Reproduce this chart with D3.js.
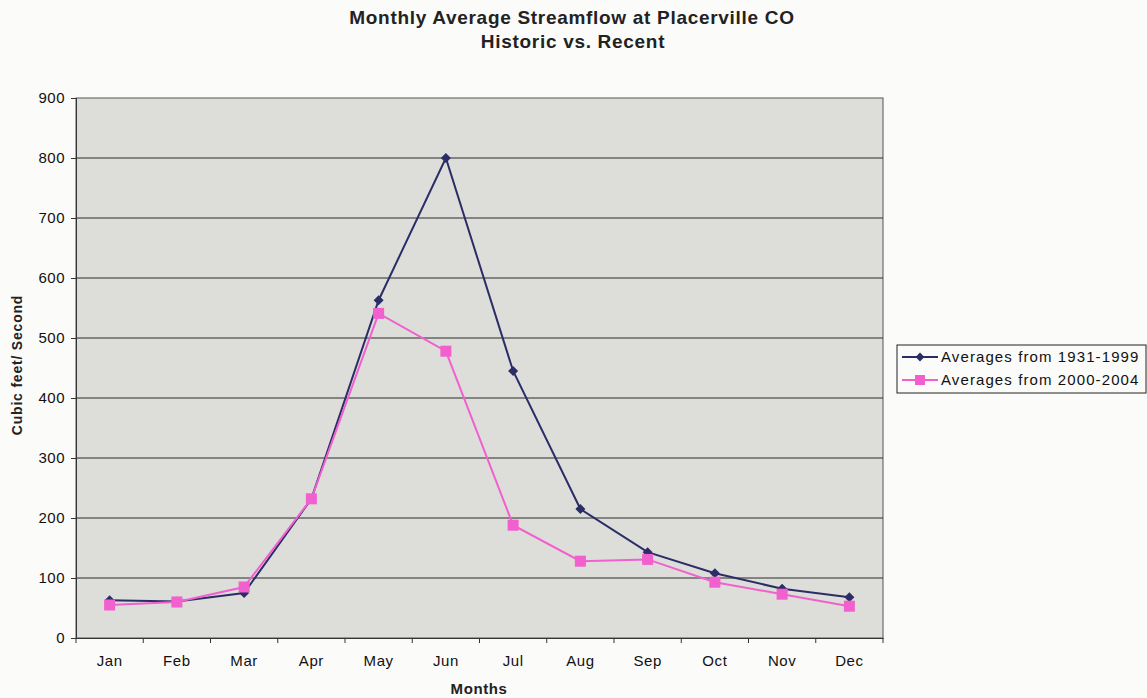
<!DOCTYPE html>
<html>
<head>
<meta charset="utf-8">
<script src="https://cdn.jsdelivr.net/npm/d3@7"></script>
<style>
  body { margin: 0; background: #fbfbfa; }
  svg { font-family: Arial, "Liberation Sans", sans-serif; }
</style>
</head>
<body>
<svg width="1147" height="698"></svg>
<script>
const months = ['Jan', 'Feb', 'Mar', 'Apr', 'May', 'Jun', 'Jul', 'Aug', 'Sep', 'Oct', 'Nov', 'Dec'];
const historic = [63, 61, 75, 232, 563, 800, 445, 215, 143, 108, 82, 68];
const recent = [55, 60, 85, 232, 541, 478, 188, 128, 131, 93, 73, 53];
const seriesNames = ['Averages from 1931-1999', 'Averages from 2000-2004'];
const yTicks = [0, 100, 200, 300, 400, 500, 600, 700, 800, 900];

const svg = d3.select('svg');
const plotL = 76, plotR = 883, plotT = 98, plotB = 638;

const x = d3.scaleBand().domain(months).range([plotL, plotR]);
const y = d3.scaleLinear().domain([0, 900]).range([plotB, plotT]);

// plot area
svg.append('rect')
  .attr('x', plotL).attr('y', plotT)
  .attr('width', plotR - plotL).attr('height', plotB - plotT)
  .style('fill', '#dddddA')
  .style('stroke', '#555')
  .style('stroke-width', 1);

// gridlines
svg.append('g')
  .selectAll('line')
  .data(yTicks.slice(1, -1))
  .join('line')
  .attr('x1', plotL).attr('x2', plotR)
  .attr('y1', d => y(d)).attr('y2', d => y(d))
  .style('stroke', '#2a2a2a')
  .style('stroke-width', 1);

// y axis
const yAxis = svg.append('g')
  .attr('transform', `translate(${plotL},0)`)
  .call(d3.axisLeft(y).tickValues(yTicks).tickSize(5).tickPadding(6));
yAxis.select('.domain').style('stroke', '#333');
yAxis.selectAll('line').style('stroke', '#333');
yAxis.selectAll('text').style('font-size', '15px').style('letter-spacing', '0.5px').style('fill', '#111');

// x axis
const xAxis = svg.append('g')
  .attr('transform', `translate(0,${plotB})`)
  .call(d3.axisBottom(x).tickSize(0).tickPadding(17));
xAxis.select('.domain').style('stroke', '#333');
xAxis.selectAll('text').style('font-size', '15px').style('letter-spacing', '0.6px').style('fill', '#111');

// x ticks at category boundaries
svg.append('g')
  .selectAll('line')
  .data(months.concat(['end']))
  .join('line')
  .attr('x1', (d, i) => i < months.length ? x(d) : plotR)
  .attr('x2', (d, i) => i < months.length ? x(d) : plotR)
  .attr('y1', plotB).attr('y2', plotB + 5)
  .style('stroke', '#333');

const cx = d => x(d) + x.bandwidth() / 2;
const line = d3.line().x((d, i) => cx(months[i])).y(d => y(d));

const colors = ['#2b2d66', '#f25fce'];

// series lines
[historic, recent].forEach((vals, k) => {
  svg.append('path')
    .datum(vals)
    .attr('d', line)
    .style('fill', 'none')
    .style('stroke', colors[k])
    .style('stroke-width', 2);
});

// markers
svg.append('g')
  .selectAll('path')
  .data(historic)
  .join('path')
  .attr('d', d3.symbol(d3.symbolDiamond2, 64))
  .attr('transform', (d, i) => `translate(${cx(months[i])},${y(d)})`)
  .style('fill', colors[0]);

svg.append('g')
  .selectAll('rect')
  .data(recent)
  .join('rect')
  .attr('x', (d, i) => cx(months[i]) - 5.5)
  .attr('y', d => y(d) - 5.5)
  .attr('width', 11).attr('height', 11)
  .style('fill', colors[1]);

// title
svg.append('text')
  .attr('x', 572).attr('y', 24)
  .attr('text-anchor', 'middle')
  .style('font-size', '19px').style('font-weight', 'bold').style('letter-spacing', '0.7px').style('fill', '#222')
  .text('Monthly Average Streamflow at Placerville CO');
svg.append('text')
  .attr('x', 573).attr('y', 48)
  .attr('text-anchor', 'middle')
  .style('font-size', '19px').style('font-weight', 'bold').style('letter-spacing', '0.7px').style('fill', '#222')
  .text('Historic vs. Recent');

// axis titles
svg.append('text')
  .attr('x', 479).attr('y', 694)
  .attr('text-anchor', 'middle')
  .style('font-size', '15px').style('font-weight', 'bold').style('letter-spacing', '0.6px').style('fill', '#222')
  .text('Months');
svg.append('text')
  .attr('transform', `translate(22,365) rotate(-90)`)
  .attr('text-anchor', 'middle')
  .style('font-size', '14px').style('font-weight', 'bold').style('letter-spacing', '0.8px').style('fill', '#222')
  .text('Cubic feet/ Second');

// legend
const legend = svg.append('g');
legend.append('rect')
  .attr('x', 897).attr('y', 345)
  .attr('width', 249).attr('height', 48)
  .style('fill', '#fbfbfa')
  .style('stroke', '#222');

const items = legend.selectAll('g')
  .data(seriesNames)
  .join('g')
  .attr('transform', (d, i) => `translate(0,${357 + i * 23})`);
items.append('line')
  .attr('x1', 902).attr('x2', 938)
  .style('stroke', (d, i) => colors[i])
  .style('stroke-width', 2);
items.filter((d, i) => i === 0).append('path')
  .attr('d', d3.symbol(d3.symbolDiamond2, 50))
  .attr('transform', 'translate(920,0)')
  .style('fill', colors[0]);
items.filter((d, i) => i === 1).append('rect')
  .attr('x', 915).attr('y', -5).attr('width', 10).attr('height', 10)
  .style('fill', colors[1]);
items.append('text')
  .attr('x', 941).attr('y', 5)
  .style('font-size', '15px').style('letter-spacing', '1.1px').style('fill', '#111')
  .text(d => d);
</script>
</body>
</html>
